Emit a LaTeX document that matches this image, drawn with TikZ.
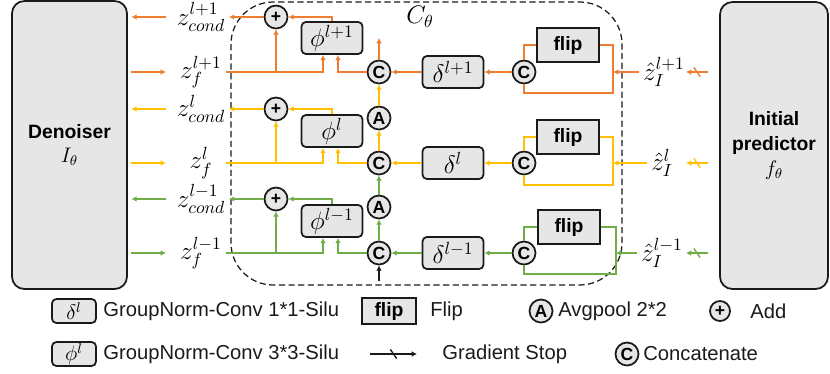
\documentclass[tikz,border=0pt]{standalone}
\usepackage[no-math]{fontspec}
\newfontfamily\sansf{Liberation Sans}
\usetikzlibrary{arrows.meta,calc,decorations.markings}
\definecolor{boxgray}{HTML}{E6E6E6}
\definecolor{lorange}{HTML}{ED7D31}
\definecolor{lyellow}{HTML}{FFC000}
\definecolor{lgreen}{HTML}{70AD47}
\definecolor{dark}{HTML}{1A1A1A}
\tikzset{
  bigbox/.style={draw=dark, line width=1pt, rounded corners=7pt, fill=boxgray, align=center, font=\sansf\bfseries\fontsize{11}{14}\selectfont},
  opbox/.style={draw=dark, line width=1pt, rounded corners=2.5pt, fill=boxgray, minimum width=1.22cm, minimum height=0.64cm, inner sep=0pt, font=\Large},
  flipbox/.style={draw=dark, line width=1pt, fill=boxgray, minimum width=1.24cm, minimum height=0.68cm, inner sep=0pt, font=\sansf\bfseries\fontsize{11}{13}\selectfont},
  op/.style={circle, draw=dark, line width=1pt, fill=boxgray, minimum size=0.46cm, inner sep=0pt, font=\sansf\bfseries\fontsize{10}{12}\selectfont},
  lbl/.style={font=\Large, inner sep=2pt},
  legtext/.style={anchor=west, inner sep=0pt, text=dark, font=\sansf\fontsize{11.5}{14}\selectfont},
  cont/.style={draw=dark, line width=0.7pt, dash pattern=on 3.5pt off 2pt, rounded corners=24pt},
  wire/.style={line width=0.8pt},
  arrow/.style={wire, -{Latex[length=3pt,width=3.2pt]}},
  gstop/.style={arrow, postaction={decorate, decoration={markings, mark=at position 0.5 with {\draw[-, line width=0.8pt] (-1.8pt,2.6pt) -- (1.8pt,-2.6pt);}}}}
}
\begin{document}
\begin{tikzpicture}[x=0.02cm, y=-0.02cm]
  \useasboundingbox (0,0) rectangle (830,373);
  \node[bigbox, minimum width=2.3cm, minimum height=5.76cm] (den) at (69.5,145) {Denoiser\\{\large$I_\theta$}};
  \node[bigbox, minimum width=2.16cm, minimum height=5.74cm] (pred) at (774,145.5) {Initial\\predictor\\{\large$f_\theta$}};
  \draw[cont] (231,2) rectangle (622,285);
  \node[lbl] (ctheta) at (420,17) {$C_\theta$};
  \coordinate (lx) at (166,0);
  \coordinate (gs) at (708,0);
  \coordinate (ge) at (686,0);
  \coordinate (ctop) at (379,38);
  \coordinate (cin) at (379,281);

  % level l+1
  \node[lbl] (zc2) at (201,17) {$z^{l+1}_{cond}$};
  \node[lbl] (zf2) at (201,72) {$z^{l+1}_{f}$};
  \node[op] (p2) at (276,17) {+};
  \node[opbox] (phi2) at (332,38) {$\phi^{l+1}$};
  \node[op] (c2) at (379,72) {C};
  \node[opbox] (d2) at (453,72) {$\delta^{l+1}$};
  \node[op] (cc2) at (524,72) {C};
  \node[flipbox] (fl2) at (568,45) {flip};
  \node[lbl] (zh2) at (664,72) {$\hat{z}^{l+1}_{I}$};
  \draw[arrow, lorange, shorten >=2pt] (lx |- zc2) -- (den.east |- zc2);
  \draw[arrow, lorange, shorten <=2pt] (den.east |- zf2) -- (lx |- zf2);
  \draw[arrow, lorange] (p2) -- (p2 -| zc2.east);
  \draw[arrow, lorange] (zf2.east) -| ($(phi2.south)+(-9,0)$);
  \draw[arrow, lorange] (p2 |- zf2) -- (p2);
  \draw[arrow, lorange] (phi2.north) |- (p2);
  \draw[arrow, lorange] (c2) -| ($(phi2.south)+(6,0)$);
  \draw[arrow, lorange] (c2) -- (ctop);
  \draw[arrow, lorange] (d2) -- (c2);
  \draw[arrow, lorange] (cc2) -- (d2);
  \draw[wire, lorange] (fl2.west) -| (cc2);
  \draw[wire, lorange] (fl2.east) -| ($(cc2)+(89,21)$) -| (cc2);
  \draw[arrow, lorange] (zh2.west) -- ($(cc2)+(89,0)$);
  \draw[gstop, lorange] (gs |- zh2) -- (ge |- zh2);

  % level l
  \node[lbl] (zc1) at (201,109) {$z^{l}_{cond}$};
  \node[lbl] (zf1) at (201,163) {$z^{l}_{f}$};
  \node[op] (p1) at (276,109) {+};
  \node[opbox] (phi1) at (332,131) {$\phi^{l}$};
  \node[op] (c1) at (379,163) {C};
  \node[op] (a1) at (379,118) {A};
  \node[opbox] (d1) at (453,163) {$\delta^{l}$};
  \node[op] (cc1) at (524,163) {C};
  \node[flipbox] (fl1) at (568,137) {flip};
  \node[lbl] (zh1) at (662,163) {$\hat{z}^{l}_{I}$};
  \draw[arrow, lyellow, shorten >=2pt] (lx |- zc1) -- (den.east |- zc1);
  \draw[arrow, lyellow, shorten <=2pt] (den.east |- zf1) -- (lx |- zf1);
  \draw[arrow, lyellow] (p1) -- (p1 -| zc2.east);
  \draw[arrow, lyellow] (zf1.east -| zf2.east) -| ($(phi1.south)+(-9,0)$);
  \draw[arrow, lyellow] (p1 |- zf1) -- (p1);
  \draw[arrow, lyellow] (phi1.north) |- (p1);
  \draw[arrow, lyellow] (c1) -| ($(phi1.south)+(6,0)$);
  \draw[arrow, lyellow] (c1) -- (a1);
  \draw[arrow, lyellow] (a1) -- (c2);
  \draw[arrow, lyellow] (d1) -- (c1);
  \draw[arrow, lyellow] (cc1) -- (d1);
  \draw[wire, lyellow] (fl1.west) -| (cc1);
  \draw[wire, lyellow] (fl1.east) -| ($(cc1)+(89,22)$) -| (cc1);
  \draw[arrow, lyellow] (zh1.west) -- ($(cc1)+(89,0)$);
  \draw[gstop, lyellow] (gs |- zh1) -- (ge |- zh1);

  % level l-1
  \node[lbl] (zc0) at (201,199) {$z^{l-1}_{cond}$};
  \node[lbl] (zf0) at (201,253) {$z^{l-1}_{f}$};
  \node[op] (p0) at (276,199) {+};
  \node[opbox] (phi0) at (332,221) {$\phi^{l-1}$};
  \node[op] (c0) at (379,253) {C};
  \node[op] (a0) at (379,207) {A};
  \node[opbox] (d0) at (453,253) {$\delta^{l-1}$};
  \node[op] (cc0) at (524,253) {C};
  \node[flipbox] (fl0) at (569,227) {flip};
  \node[lbl] (zh0) at (662,253) {$\hat{z}^{l-1}_{I}$};
  \draw[arrow, lgreen, shorten >=2pt] (lx |- zc0) -- (den.east |- zc0);
  \draw[arrow, lgreen, shorten <=2pt] (den.east |- zf0) -- (lx |- zf0);
  \draw[arrow, lgreen] (p0) -- (p0 -| zc2.east);
  \draw[arrow, lgreen] (zf0.east -| zf2.east) -| ($(phi0.south)+(-9,0)$);
  \draw[arrow, lgreen] (p0 |- zf0) -- (p0);
  \draw[arrow, lgreen] (phi0.north) |- (p0);
  \draw[arrow, lgreen] (c0) -| ($(phi0.south)+(6,0)$);
  \draw[arrow, lgreen] (c0) -- (a0);
  \draw[arrow, lgreen] (a0) -- (c1);
  \draw[arrow, dark] (cin) -- (c0);
  \draw[arrow, lgreen] (d0) -- (c0);
  \draw[arrow, lgreen] (cc0) -- (d0);
  \draw[wire, lgreen] (fl0.west) -| (cc0);
  \draw[wire, lgreen] (fl0.east) -| ($(cc0)+(92,21)$) -| (cc0);
  \draw[arrow, lgreen] (zh0.west) -- ($(cc0)+(92,0)$);
  \draw[gstop, lgreen] (gs |- zh0) -- (ge |- zh0);

  % legend
  \node[opbox, minimum width=0.88cm, minimum height=0.48cm, font=\large] (kdelta) at (74,311) {$\delta^l$};
  \node[legtext] (kdeltat) at (103,311) {GroupNorm-Conv 1*1-Silu};
  \node[flipbox, minimum width=1.08cm, minimum height=0.52cm] (kflip) at (389,311) {flip};
  \node[legtext] (kflipt) at (430,311) {Flip};
  \node[op] (kavg) at (541,311) {A};
  \node[legtext] (kavgt) at (558,311) {Avgpool 2*2};
  \node[op, minimum size=0.4cm] (kadd) at (720,311) {+};
  \node[legtext] (kaddt) at (750,311) {Add};
  \node[opbox, minimum width=0.88cm, minimum height=0.48cm, font=\large] (kphi) at (74,354) {$\phi^l$};
  \node[legtext] (kphit) at (103,354) {GroupNorm-Conv 3*3-Silu};
  \coordinate (kgs) at (370,354);
  \coordinate (kge) at (417,354);
  \draw[gstop, dark] (kgs) -- (kge);
  \node[legtext] (kgst) at (442,354) {Gradient Stop};
  \node[op] (kcat) at (627,354) {C};
  \node[legtext] (kcatt) at (643,354) {Concatenate};
\end{tikzpicture}
\end{document}
